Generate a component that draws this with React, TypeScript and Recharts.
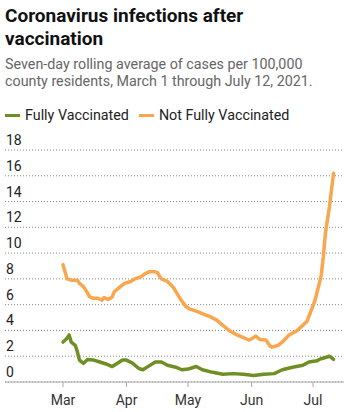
import React from 'react';
import { LineChart, Line, XAxis, YAxis, CartesianGrid } from 'recharts';

const GREEN = '#6f8f24';
const ORANGE = '#f9a64e';

// days since March 1, 2021
const fullyDays = [0, 2, 3, 4, 6, 7, 8, 10, 12, 15, 18, 21, 24, 26, 29, 31, 34, 37, 39, 42, 45, 48, 51, 55, 58, 61, 65, 68, 73, 78, 83, 88, 93, 98, 103, 107, 112, 117, 120, 124, 125, 128, 130, 132];
const fullyValues = [3.1, 3.4, 3.65, 3.1, 2.85, 2.35, 1.7, 1.45, 1.75, 1.7, 1.55, 1.4, 1.2, 1.4, 1.7, 1.7, 1.45, 1.05, 0.95, 1.25, 1.55, 1.55, 1.3, 1.15, 0.95, 1.0, 1.2, 0.95, 0.75, 0.6, 0.65, 0.6, 0.5, 0.6, 0.65, 0.95, 1.15, 1.3, 1.55, 1.65, 1.75, 1.9, 2.0, 1.75];

const notDays = [0, 2, 4, 7, 8, 10, 12, 13, 15, 17, 19, 20, 22, 24, 25, 28, 30, 33, 35, 38, 40, 42, 45, 46, 48, 51, 54, 57, 60, 62, 65, 68, 72, 75, 78, 81, 85, 88, 91, 94, 96, 99, 101, 102, 105, 107, 110, 112, 114, 117, 119, 121, 123, 124, 125, 126, 127, 128, 130, 132];
const notValues = [9.1, 8.0, 7.9, 7.9, 7.65, 7.4, 6.9, 6.6, 6.5, 6.5, 6.35, 6.55, 6.4, 6.6, 7.0, 7.4, 7.65, 7.8, 8.0, 8.15, 8.4, 8.55, 8.55, 8.5, 8.0, 7.8, 7.3, 6.5, 5.85, 5.65, 5.5, 5.3, 5.05, 4.8, 4.4, 4.0, 3.65, 3.45, 3.25, 3.55, 3.3, 3.25, 2.8, 2.7, 2.85, 3.1, 3.6, 3.8, 3.95, 4.4, 4.7, 5.5, 6.35, 7.0, 7.6, 8.3, 9.7, 11.5, 13.6, 16.2];

const monthDays = [0, 31, 61, 92, 122];
const monthLabels = ['Mar', 'Apr', 'May', 'Jun', 'Jul'];
const yTicks = [0, 2, 4, 6, 8, 10, 12, 14, 16, 18];

const fullyData = fullyDays.map((day, i) => ({ day, value: fullyValues[i] }));
const notData = notDays.map((day, i) => ({ day, value: notValues[i] }));

const FONT = 'Roboto, "Noto Sans", sans-serif';

const YTick = (props: any) => {
  const { y, payload } = props;
  return (
    <text x={6} y={y - 5} fill="#222" fontSize={14} fontFamily={FONT} textAnchor="start">
      {payload.value}
    </text>
  );
};

const XTick = (props: any) => {
  const { x, y, payload } = props;
  return (
    <text x={x} y={y + 16} fill="#333" fontSize={14} fontFamily={FONT} textAnchor="middle">
      {monthLabels[monthDays.indexOf(payload.value)]}
    </text>
  );
};

const LegendItem = ({ color, label }: { color: string; label: string }) => (
  <span style={{ display: 'inline-flex', alignItems: 'center', marginRight: 10 }}>
    <span style={{ display: 'inline-block', width: 15, height: 3.5, background: color, marginRight: 5 }} />
    {label}
  </span>
);

export default function App() {
  return (
    <div style={{ position: 'absolute', left: 0, top: 0, width: 352, height: 412, background: '#fff', fontFamily: FONT }}>
      <div style={{ position: 'absolute', left: 5, top: 4, fontSize: 19, fontWeight: 700, lineHeight: '23px', color: '#111' }}>
        Coronavirus infections after
        <br />
        vaccination
      </div>
      <div style={{ position: 'absolute', left: 5, top: 56, fontSize: 14.3, lineHeight: '17px', color: '#666', whiteSpace: 'nowrap' }}>
        Seven-day rolling average of cases per 100,000
        <br />
        county residents, March 1 through July 12, 2021.
      </div>
      <div style={{ position: 'absolute', left: 5, top: 104, fontSize: 14.3, color: '#222', whiteSpace: 'nowrap' }}>
        <LegendItem color={GREEN} label="Fully Vaccinated" />
        <LegendItem color={ORANGE} label="Not Fully Vaccinated" />
      </div>
      <div style={{ position: 'absolute', left: 0, top: 130 }}>
        <LineChart width={352} height={282} margin={{ top: 20, right: 8, bottom: 0, left: 4 }}>
          <CartesianGrid vertical={false} stroke="#888" strokeDasharray="1 2" />
          <XAxis
            type="number"
            dataKey="day"
            domain={[-28.3, 137.1]}
            ticks={monthDays}
            allowDataOverflow
            height={30}
            stroke="#aaa"
            tickSize={5}
            tick={<XTick />}
          />
          <YAxis
            type="number"
            domain={[0, 18]}
            ticks={yTicks}
            width={1}
            axisLine={false}
            tickLine={false}
            tick={<YTick />}
          />
          <Line data={fullyData} dataKey="value" type="linear" stroke={GREEN} strokeWidth={3.5} dot={false} isAnimationActive={false} strokeLinejoin="round" strokeLinecap="round" />
          <Line data={notData} dataKey="value" type="linear" stroke={ORANGE} strokeWidth={3.5} dot={false} isAnimationActive={false} strokeLinejoin="round" strokeLinecap="round" />
        </LineChart>
      </div>
    </div>
  );
}
